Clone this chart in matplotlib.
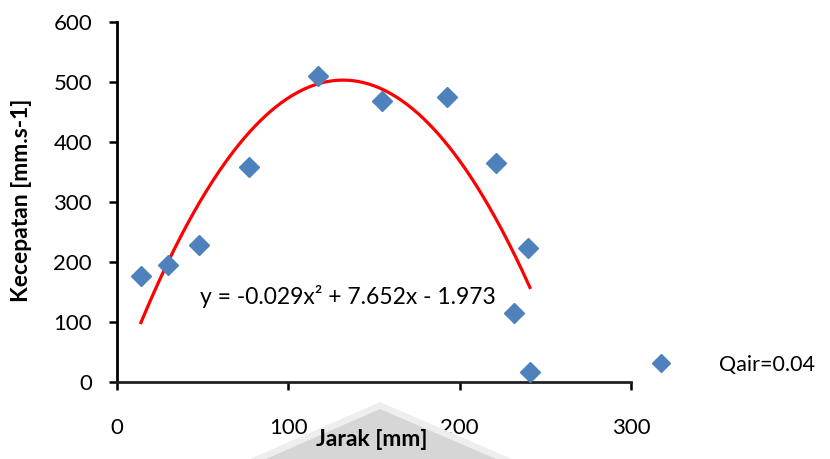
import matplotlib
matplotlib.use("Agg")
import matplotlib.pyplot as plt
import numpy as np
from matplotlib.patches import Polygon

# Measured velocity vs distance
jarak = [14, 30, 48, 77, 117.5, 154.5, 192.5, 221, 240, 231.5, 241]
kecepatan = [177, 196, 228, 359, 509, 468, 474, 365, 224, 115, 17]

# Quadratic trend line coefficients (a*x^2 + b*x + c)
coef_a, coef_b, coef_c = -0.029, 7.652, -1.973
trend_range = (14, 241)

series_label = "Qair=0.04"
x_label = "Jarak [mm]"
y_label = "Kecepatan [mm.s-1]"
x_ticks = [0, 100, 200, 300]
y_ticks = [0, 100, 200, 300, 400, 500, 600]

plt.rcParams['font.family'] = ['Lato', 'DejaVu Sans']

fig = plt.figure(figsize=(8.30, 4.59), dpi=100)

# faint background emblem behind the x-axis title
fig.patches.append(Polygon([[250/830, 0], [380/830, 1 - 402/459], [512/830, 0]],
                           closed=True, transform=fig.transFigure,
                           facecolor="#eeeeee", edgecolor="none", zorder=0))
fig.patches.append(Polygon([[266/830, 0], [380/830, 1 - 409/459], [496/830, 0]],
                           closed=True, transform=fig.transFigure,
                           facecolor="#d6d6d6", edgecolor="none", zorder=0))

ax = fig.add_axes([117/830, 1 - 382.3/459, (631 - 117)/830, (382.3 - 21.7)/459])
ax.patch.set_alpha(0)

ax.plot(jarak, kecepatan, linestyle="none", marker="D", markersize=10,
        color="#4F81BD", label=series_label, zorder=3)

xs = np.linspace(trend_range[0], trend_range[1], 300)
ax.plot(xs, coef_a * xs**2 + coef_b * xs + coef_c, color="#FF0000",
        linewidth=2.3, zorder=2)

ax.text(200/830, 1 - 297/459, "y = -0.029x² + 7.652x - 1.973",
        transform=fig.transFigure, fontsize=16.5, ha="left", va="center")

ax.set_xlim(0, 300)
ax.set_ylim(0, 600)
ax.set_xticks(x_ticks)
ax.set_yticks(y_ticks)
ax.tick_params(axis="both", direction="out", length=6, width=1.8, labelsize=16,
               pad=12)
ax.tick_params(axis="x", pad=20)
for side in ("top", "right"):
    ax.spines[side].set_visible(False)
for side in ("left", "bottom"):
    ax.spines[side].set_linewidth(2)
ax.spines["bottom"].set_color("#222222")

fig.text(372/830, 1 - 440/459, x_label, fontsize=16.5, fontweight="bold",
         ha="center", va="center")
fig.text(22/830, 1 - 200/459, y_label, fontsize=16.5, fontweight="bold",
         ha="center", va="center", rotation=90)

ax.legend(loc="center left", bbox_to_anchor=(625/830, 1 - 365/459),
          bbox_transform=fig.transFigure, frameon=False, fontsize=15.5,
          markerscale=0.95, handlelength=1.5, handletextpad=1.95)

fig.savefig("out.png", dpi=100)
